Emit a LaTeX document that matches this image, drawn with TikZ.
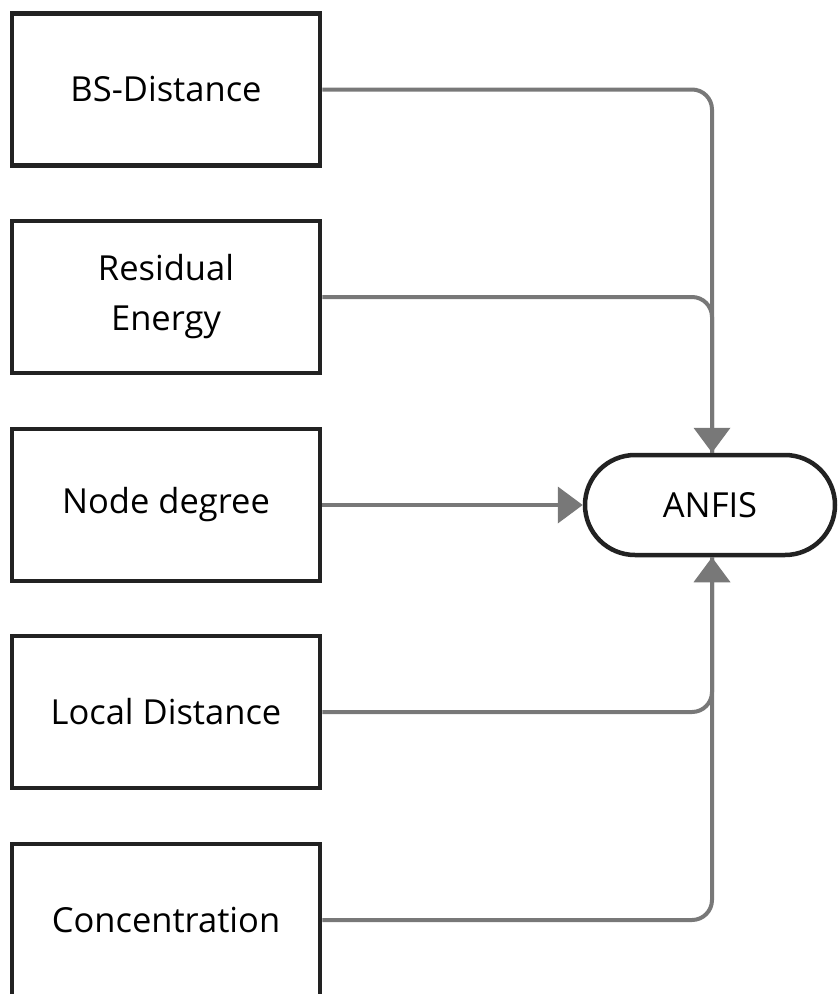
\documentclass[tikz,border=0pt]{standalone}
\usepackage{fontspec}
\setmainfont{Open Sans}
\usetikzlibrary{arrows.meta}
\definecolor{boxline}{HTML}{222222}
\definecolor{conn}{HTML}{787878}
\begin{document}
\begin{tikzpicture}[x=1pt,y=-1pt,
  inbox/.style={draw=boxline, line width=4.5pt, minimum width=308pt, minimum height=152pt,
    align=center, font=\fontsize{34.5}{50}\selectfont, inner sep=0pt, fill=white},
  pill/.style={draw=boxline, line width=4.5pt, minimum width=250pt, minimum height=100pt,
    rounded corners=50pt, font=\fontsize{34.5}{40}\selectfont, inner sep=0pt, fill=white},
  link/.style={draw=conn, line width=4pt, rounded corners=20pt},
  tip/.style={-{Triangle[width=36pt,length=25pt]}}
]
\clip (0,0) rectangle (838,994);
\fill[white] (0,0) rectangle (838,994);
\node[inbox] (bs) at (166,89.5) {BS-Distance};
\node[inbox] (re) at (166,297) {Residual\\Energy};
\node[inbox] (nd) at (166,505) {Node degree};
\node[inbox] (ld) at (166,712) {Local Distance};
\node[inbox] (co) at (166,920) {Concentration};
\node[pill] (anfis) at (710,505) {ANFIS};
\coordinate (vx) at (712,0);
\coordinate (top) at (vx |- anfis.north);
\coordinate (bot) at (vx |- anfis.south);
\coordinate (t1) at (vx |- bs.east);
\coordinate (t2) at (vx |- re.east);
\coordinate (b1) at (vx |- ld.east);
\coordinate (b2) at (vx |- co.east);
\coordinate (ta) at (712,420);
\coordinate (ba) at (712,590);
\draw[link] (bs.east) -- (t1) -- (top);
\draw[link] (re.east) -- (t2) -- (top);
\draw[link] (ld.east) -- (b1) -- (bot);
\draw[link] (co.east) -- (b2) -- (bot);
\draw[link,tip] (ta) -- (top);
\draw[link,tip] (ba) -- (bot);
\draw[link,tip] (nd.east) -- (anfis.west);
\end{tikzpicture}
\end{document}
